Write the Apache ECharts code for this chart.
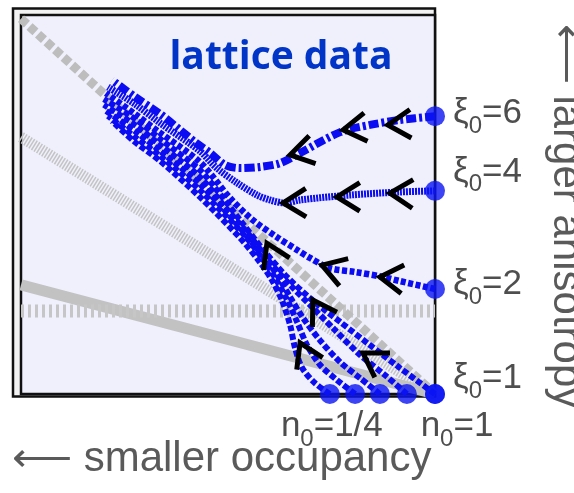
<!DOCTYPE html>
<html>
<head>
<meta charset="utf-8">
<script src="https://cdn.jsdelivr.net/npm/echarts@6/dist/echarts.min.js"></script>
<style>
  html, body { margin: 0; padding: 0; background: #ffffff; }
  #chart { width: 574px; height: 493px; }
</style>
</head>
<body>
<div id="chart"></div>
<script>
// Plot coordinates: horizontal = occupancy scale (0..1), vertical = anisotropy scale (0..1)

// Starting anisotropies (right edge) and their heights on the plot
const anisotropyLevels = ['6', '4', '2', '1'];
const anisotropyY = [0.733, 0.536, 0.277, 0.0];

// Starting occupancies (bottom edge)
const occupancyX = [0.746, 0.807, 0.867, 0.932, 1.0];
const occupancyLabels = ['1/4', '', '', '', '1'];

// Reference curves (gray)
const guideSteep = [[0.0, 0.99], [1.0, 0.0]];
const guideHatched = [[0.0, 0.678], [1.0, 0.0]];
const guideLevel = [[0.0, 0.219], [1.0, 0.219]];
const guideShallow = [[0.0, 0.288], [1.0, 0.0]];

// Flow trajectories from the lattice data
const flowXi6 = [[1.000,0.733],[0.915,0.723],[0.843,0.710],[0.771,0.691],[0.674,0.636],[0.626,0.609],[0.577,0.599],[0.529,0.596],[0.493,0.604],[0.457,0.636],[0.420,0.665],[0.384,0.697],[0.336,0.739],[0.275,0.784],[0.220,0.828]];
const flowXi4 = [[1.000,0.536],[0.915,0.533],[0.795,0.525],[0.674,0.512],[0.638,0.504],[0.601,0.512],[0.570,0.525],[0.522,0.557],[0.473,0.596],[0.432,0.641],[0.336,0.715],[0.275,0.765],[0.210,0.810]];
const flowXi2 = [[1.000,0.277],[0.915,0.298],[0.874,0.309],[0.807,0.322],[0.746,0.332],[0.698,0.359],[0.667,0.380],[0.618,0.414],[0.560,0.459],[0.505,0.517],[0.432,0.612],[0.336,0.689],[0.275,0.739],[0.205,0.794]];
const flowN1 = [[1.000,0.0],[0.915,0.069],[0.843,0.129],[0.771,0.190],[0.698,0.253],[0.638,0.314],[0.582,0.385],[0.529,0.459],[0.469,0.544],[0.432,0.591],[0.336,0.673],[0.275,0.726],[0.200,0.778]];
const flowN2 = [[0.932,0.0],[0.879,0.050],[0.819,0.103],[0.758,0.169],[0.698,0.235],[0.650,0.288],[0.601,0.348],[0.553,0.417],[0.493,0.493],[0.432,0.573],[0.336,0.657],[0.275,0.710],[0.200,0.763]];
const flowN3 = [[0.867,0.0],[0.819,0.042],[0.771,0.084],[0.722,0.142],[0.681,0.201],[0.650,0.256],[0.614,0.322],[0.572,0.380],[0.517,0.454],[0.432,0.554],[0.336,0.641],[0.275,0.694],[0.205,0.747]];
const flowN4 = [[0.807,0.0],[0.763,0.037],[0.722,0.077],[0.691,0.129],[0.667,0.190],[0.643,0.248],[0.614,0.306],[0.582,0.359],[0.541,0.417],[0.432,0.538],[0.336,0.628],[0.275,0.678],[0.210,0.734]];
const flowN5 = [[0.746,0.0],[0.710,0.029],[0.679,0.069],[0.662,0.121],[0.650,0.182],[0.630,0.248],[0.606,0.301],[0.577,0.348],[0.529,0.412],[0.432,0.520],[0.336,0.615],[0.275,0.665],[0.220,0.720]];

// Flow direction markers: [x, y, heading in degrees (180 = leftwards)]
const flowArrows = [
  [0.886,0.710,183],[0.778,0.697,187],[0.650,0.631,193],
  [0.891,0.530,178],[0.763,0.520,180],[0.633,0.504,181],
  [0.867,0.309,174],[0.727,0.340,162],
  [0.594,0.398,115],[0.705,0.248,121],[0.674,0.135,115],[0.826,0.108,148]
];

const FLOW_BLUE = '#0c0cf2';
const chart = echarts.init(document.getElementById('chart'), null, { renderer: 'canvas' });

function guide(data, width, type, color) {
  return {
    type: 'line', data: data, symbol: 'none', silent: true, clip: false, z: 2,
    lineStyle: { color: color, width: width, type: type, cap: 'butt' }
  };
}
function flow(data, width, type) {
  return {
    type: 'line', data: data, symbol: 'none', smooth: 0.3, silent: true, clip: false, z: 3,
    lineStyle: { color: FLOW_BLUE, width: width, type: type, cap: 'butt' }
  };
}

// main text on top of a tall line box, subscript pushed to the bottom of it
const subRich = {
  m: { fontFamily: 'Liberation Sans', fontSize: 35, color: '#222', lineHeight: 42, verticalAlign: 'top' },
  s: { fontFamily: 'Liberation Sans', fontSize: 24, color: '#222', verticalAlign: 'bottom' }
};

const xiNudge = [1, -15, -1, -12];
const rightDots = anisotropyY.map((y, i) => ({
  value: [1.0, y],
  label: {
    show: true, position: 'right', distance: 8, offset: [0, xiNudge[i]],
    formatter: '{m|ξ}{s|0}{m|=' + anisotropyLevels[i] + '}', rich: subRich
  }
}));
const nNudge = [2, 22];
const bottomDots = occupancyX.map((x, i) => {
  const lab = occupancyLabels[i];
  return {
    value: [x, 0.0],
    label: lab ? {
      show: true, position: 'bottom', distance: 5, offset: [i === 0 ? nNudge[0] : nNudge[1], 0],
      formatter: '{m|n}{s|0}{m|=' + lab + '}', rich: subRich
    } : { show: false }
  };
});

const option = {
  animation: false,
  grid: {
    left: 21, top: 15, right: 139, bottom: 99, show: true,
    backgroundColor: '#eff0fc', borderColor: '#111', borderWidth: 2.5, z: 1
  },
  xAxis: { type: 'value', min: 0, max: 1, show: false },
  yAxis: { type: 'value', min: 0, max: 1, show: false },
  graphic: [
    { type: 'rect', z: -10, silent: true,
      shape: { x: 13, y: 8.5, width: 422, height: 388 },
      style: { fill: '#f2f2f2', stroke: '#111', lineWidth: 2.5 } },
    { type: 'text', silent: true, z: 100, x: 281, y: 58,
      style: { text: 'lattice data', font: 'bold 39px "Open Sans"', fill: '#0035c8', textAlign: 'center', textVerticalAlign: 'middle' } },
    { type: 'text', silent: true, z: 100, x: 12, y: 459,
      style: { text: '⟵ smaller occupancy', font: '42px "Liberation Sans"', fill: '#5a5a5a', textAlign: 'left', textVerticalAlign: 'middle' } },
    { type: 'text', silent: true, z: 100, x: 566, y: 216, rotation: -Math.PI / 2,
      style: { text: '⟵ larger anisotropy', font: '42px "Liberation Sans"', fill: '#5a5a5a', textAlign: 'center', textVerticalAlign: 'middle' } }
  ],
  series: [
    guide(guideShallow, 11, 'solid', '#c2c2c2'),
    guide(guideLevel, 13, [3, 4], '#c6c6c6'),
    guide(guideHatched, 11, [1.5, 1.5], '#c4c4c4'),
    guide(guideSteep, 9, [8, 3.5], '#bdbdbd'),
    flow(flowN5, 6, [6, 2.5]),
    flow(flowN4, 6, [6, 2.5]),
    flow(flowN3, 6, [6, 2.5]),
    flow(flowN2, 6, [6, 2.5]),
    flow(flowN1, 6, [6, 2.5]),
    flow(flowXi2, 6.5, [5, 2.5]),
    flow(flowXi4, 7, [2, 1]),
    flow(flowXi6, 8, [10, 3, 3, 3]),
    {
      type: 'custom', silent: true, clip: false, z: 5,
      data: flowArrows,
      encode: { x: 0, y: 1 },
      renderItem: function (params, api) {
        const p = api.coord([api.value(0), api.value(1)]);
        const a = api.value(2) * Math.PI / 180;
        const back = a + Math.PI, half = 32 * Math.PI / 180, arm = 27;
        const p1 = [p[0] + arm * Math.cos(back + half), p[1] - arm * Math.sin(back + half)];
        const p2 = [p[0] + arm * Math.cos(back - half), p[1] - arm * Math.sin(back - half)];
        return {
          type: 'polyline',
          shape: { points: [p1, p, p2] },
          style: { stroke: '#000', lineWidth: 5, fill: null, lineJoin: 'miter', lineCap: 'butt' }
        };
      }
    },
    {
      type: 'scatter', data: bottomDots, symbol: 'circle', symbolSize: 20, clip: false, z: 6,
      itemStyle: { color: '#0a14f2' }
    },
    {
      type: 'scatter', data: rightDots, symbol: 'circle', symbolSize: 20, clip: false, z: 6,
      itemStyle: { color: '#0a14f2' }
    }
  ]
};
chart.setOption(option);
</script>
</body>
</html>
